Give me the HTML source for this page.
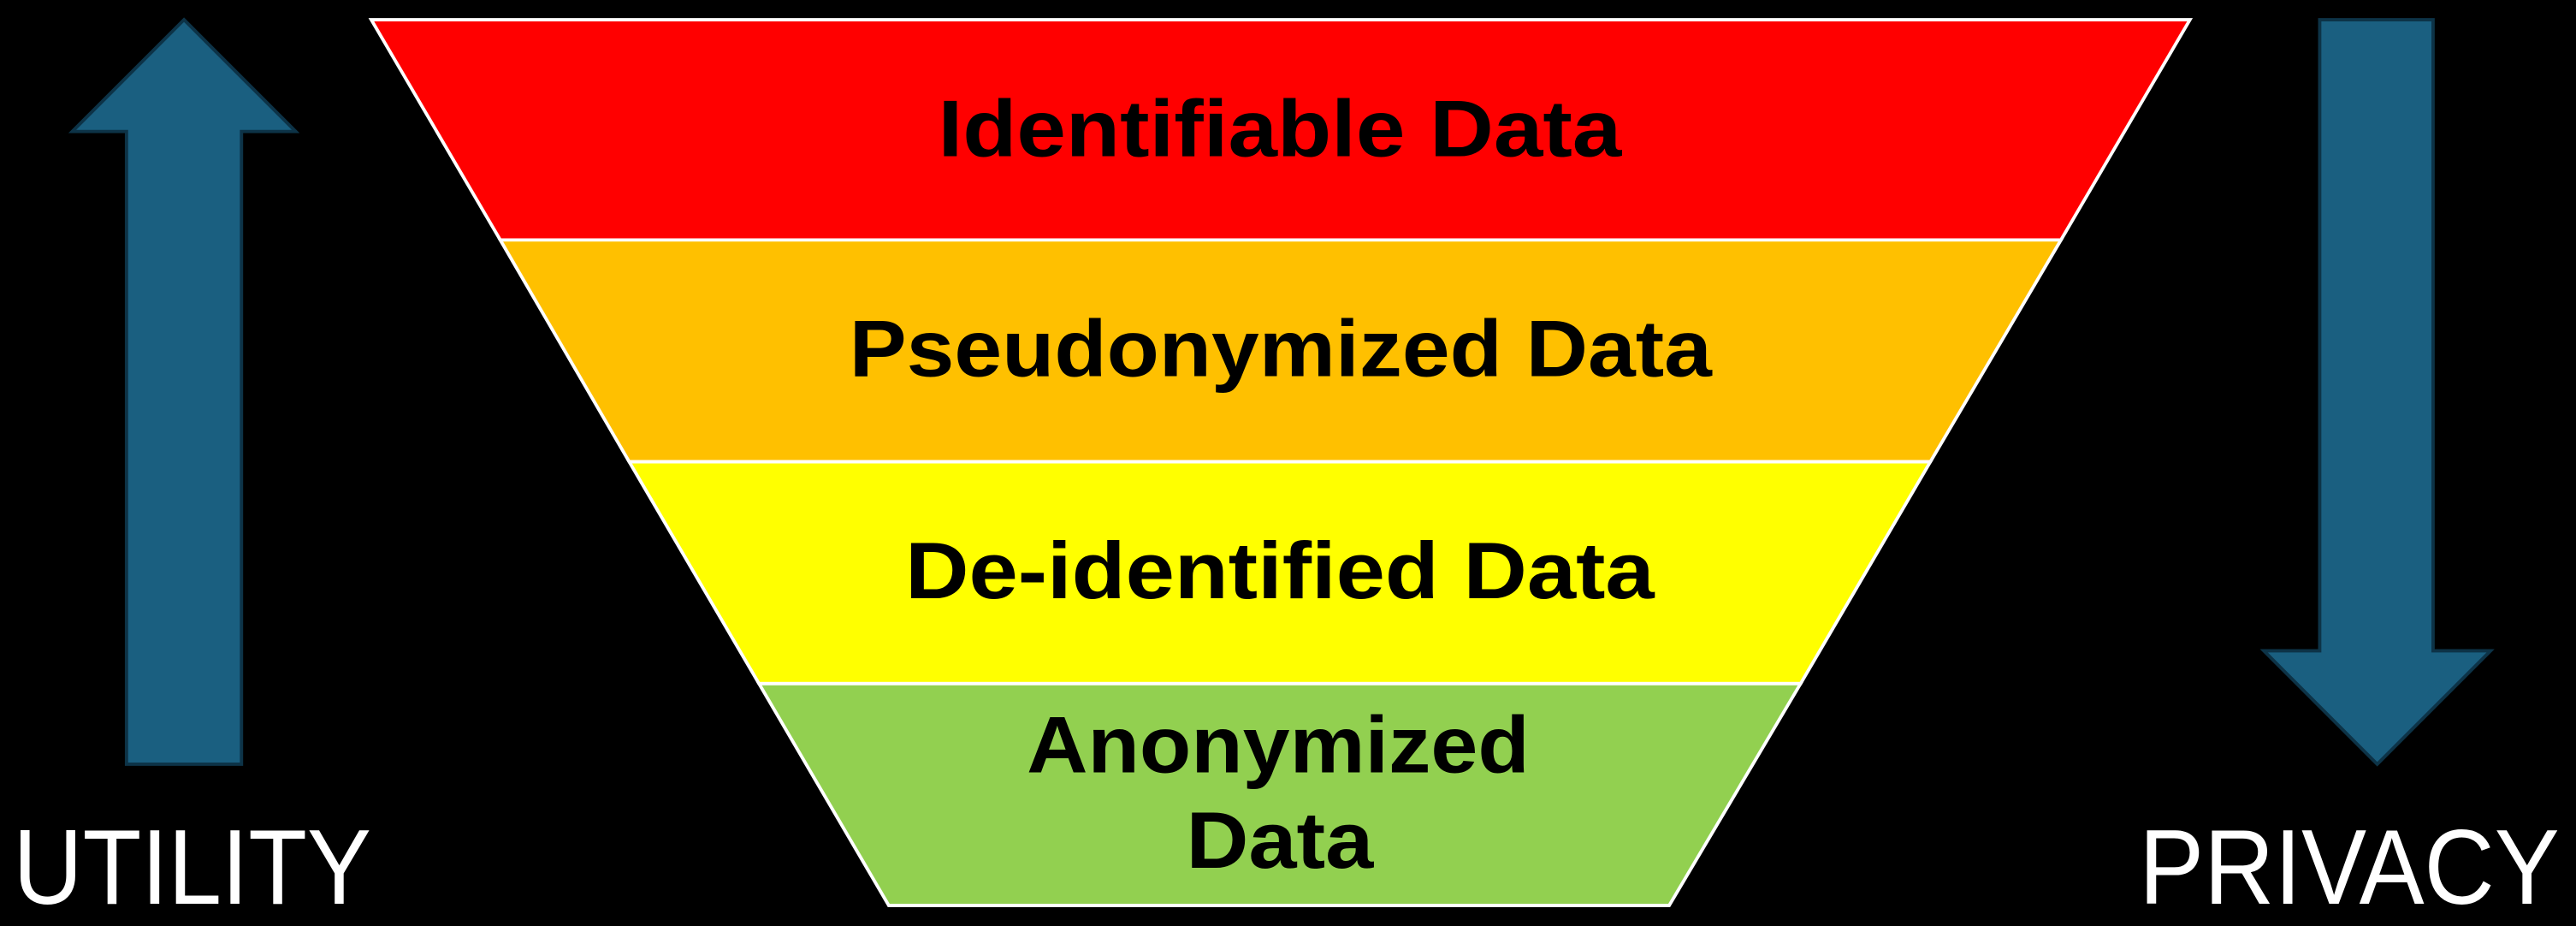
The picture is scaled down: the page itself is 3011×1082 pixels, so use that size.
<!DOCTYPE html>
<html><head><meta charset="utf-8"><style>
html,body{margin:0;padding:0;background:#000;}
svg{display:block;}
</style></head><body>
<svg width="3011" height="1082" viewBox="0 0 1568 563.45" preserveAspectRatio="none" xmlns="http://www.w3.org/2000/svg">
<rect width="1568" height="564" fill="#000"/>
<!-- funnel bands -->
<polygon points="226,12 1333,12 1254.5,146 304.5,146" fill="#ff0000" stroke="#fff" stroke-width="2"/>
<polygon points="304.5,146 1254.5,146 1175,281 383,281" fill="#ffc000" stroke="#fff" stroke-width="2"/>
<polygon points="383,281 1175,281 1096,416 462,416" fill="#ffff00" stroke="#fff" stroke-width="2"/>
<polygon points="462,416 1096,416 1016,551 541,551" fill="#92d050" stroke="#fff" stroke-width="2"/>
<g font-family="Liberation Sans, Arial, sans-serif" font-weight="bold" font-size="49" fill="#000" text-anchor="middle">
<text x="779" y="95" textLength="416" lengthAdjust="spacingAndGlyphs">Identifiable Data</text>
<text x="779.5" y="229" textLength="525" lengthAdjust="spacingAndGlyphs">Pseudonymized Data</text>
<text x="779" y="364" textLength="456" lengthAdjust="spacingAndGlyphs">De-identified Data</text>
<text x="778" y="470" textLength="306" lengthAdjust="spacingAndGlyphs">Anonymized</text>
<text x="779" y="528" textLength="114" lengthAdjust="spacingAndGlyphs">Data</text>
</g>
<!-- up arrow -->
<polygon points="112,12 180,80 147,80 147,465 77,465 77,80 44,80" fill="#1a5f80" stroke="#0d3347" stroke-width="2"/>
<!-- down arrow -->
<polygon points="1412,12 1481,12 1481,396 1516,396 1447,465 1378,396 1412,396" fill="#1a5f80" stroke="#0d3347" stroke-width="2"/>
<g font-family="Liberation Sans, Arial, sans-serif" font-size="65" fill="#fff">
<text x="8" y="550" textLength="218" lengthAdjust="spacingAndGlyphs">UTILITY</text>
<text x="1302" y="550" textLength="256" lengthAdjust="spacingAndGlyphs">PRIVACY</text>
</g>
</svg>
</body></html>
